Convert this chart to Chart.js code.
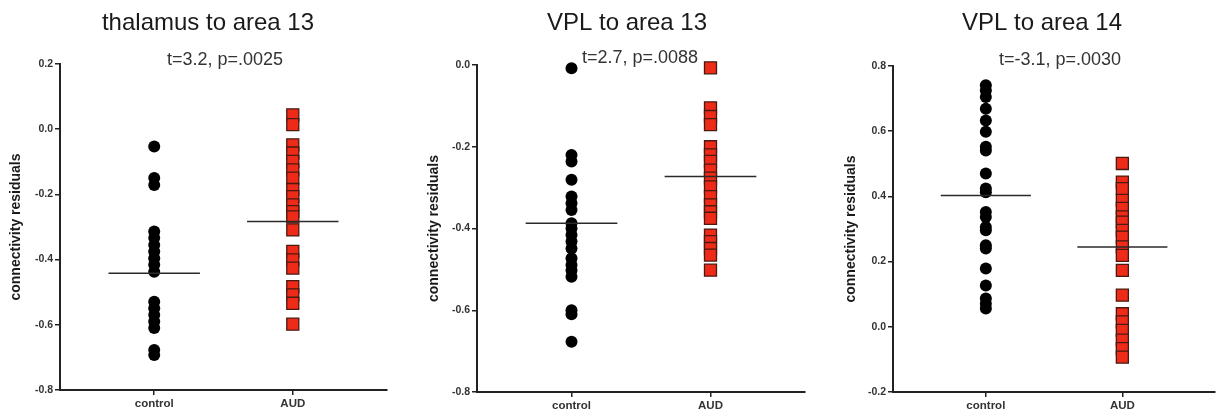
<!DOCTYPE html>
<html>
<head>
<meta charset="utf-8">
<script src="https://cdn.jsdelivr.net/npm/chart.js@4.4.1/dist/chart.umd.min.js"></script>
<style>
  body { margin: 0; background: #fff; width: 1225px; height: 419px; overflow: hidden; position: relative; }
  .panel { position: absolute; top: 0; width: 410px; height: 419px; }
</style>
</head>
<body>
<div class="panel" style="left:0px"><canvas id="c1" width="410" height="419"></canvas></div>
<div class="panel" style="left:410px"><canvas id="c2" width="410" height="419"></canvas></div>
<div class="panel" style="left:815px"><canvas id="c3" width="410" height="419"></canvas></div>
<script>
// groups on the x axis
const categories = ["control", "AUD"];

// thalamus to area 13
const p1Control = [-0.053, -0.150, -0.171, -0.314, -0.334, -0.355, -0.375, -0.396, -0.416, -0.437,
    -0.529, -0.549, -0.570, -0.590, -0.610, -0.677, -0.693];
const p1Aud = [0.044, 0.014, -0.048, -0.073, -0.099, -0.125, -0.150, -0.185, -0.207, -0.232, -0.253,
    -0.269, -0.309, -0.375, -0.401, -0.426, -0.483, -0.508, -0.534, -0.598];
const p1Means = [-0.442, -0.283];

// VPL to area 13
const p2Control = [-0.008, -0.220, -0.236, -0.281, -0.322, -0.338, -0.355, -0.387, -0.400, -0.416,
    -0.432, -0.449, -0.473, -0.489, -0.502, -0.518, -0.600, -0.610, -0.677];
const p2Aud = [-0.007, -0.105, -0.126, -0.146, -0.200, -0.220, -0.236, -0.257, -0.277, -0.298,
    -0.322, -0.342, -0.359, -0.375, -0.416, -0.432, -0.449, -0.465, -0.502];
const p2Means = [-0.387, -0.273];

// VPL to area 14
const p3Control = [0.741, 0.725, 0.705, 0.669, 0.633, 0.598, 0.552, 0.541, 0.470, 0.424, 0.413,
    0.352, 0.337, 0.306, 0.296, 0.250, 0.240, 0.179, 0.127, 0.087, 0.071, 0.056];
const p3Aud = [0.501, 0.444, 0.424, 0.388, 0.363, 0.337, 0.321, 0.296, 0.275, 0.245, 0.219,
    0.173, 0.097, 0.040, 0.015, -0.011, -0.041, -0.067, -0.093];
const p3Means = [0.403, 0.245];

const titles = ["thalamus to area 13", "VPL to area 13", "VPL to area 14"];
const stats = ["t=3.2, p=.0025", "t=2.7, p=.0088", "t=-3.1, p=.0030"];
const yRanges = [[-0.8, 0.2], [-0.8, 0.0], [-0.2, 0.8]];

const FONT = "'Liberation Sans', Arial, sans-serif";

// draws the panel title and the t / p text
const textPlugin = {
    id: "panelText",
    afterDraw(chart, args, opts) {
        const ctx = chart.ctx;
        ctx.save();
        ctx.textAlign = "center";
        ctx.textBaseline = "middle";
        ctx.fillStyle = "#1a1a1a";
        ctx.font = "24px " + FONT;
        ctx.fillText(opts.title, opts.titleX, 23);
        ctx.fillStyle = "#333";
        ctx.font = "18px " + FONT;
        ctx.fillText(opts.stat, opts.statX, opts.statY);
        ctx.restore();
    }
};

function pts(group, values) {
    return values.map(v => ({ x: group, y: v }));
}

function makeChart(id, i, control, aud, means, geo) {
    const half = 0.33;
    new Chart(document.getElementById(id), {
        type: "scatter",
        data: {
            datasets: [
                {
                    data: [{ x: 1 - half, y: means[0] }, { x: 1 + half, y: means[0] }],
                    showLine: true, borderColor: "#2a2a2a", borderWidth: 1.5, pointRadius: 0, clip: false
                },
                {
                    data: [{ x: 2 - half, y: means[1] }, { x: 2 + half, y: means[1] }],
                    showLine: true, borderColor: "#2a2a2a", borderWidth: 1.5, pointRadius: 0, clip: false
                },
                {
                    data: pts(1, control),
                    pointStyle: "circle", pointRadius: 6,
                    backgroundColor: "#000", borderColor: "#000", borderWidth: 0, clip: false
                },
                {
                    data: pts(2, aud),
                    pointStyle: "rect", pointRadius: 8.5,
                    backgroundColor: "#ee2a18", borderColor: "#4a1a10", borderWidth: 1.3, clip: false
                }
            ]
        },
        options: {
            responsive: false,
            animation: false,
            events: [],
            layout: { padding: { left: geo.padLeft, top: geo.top, right: geo.padRight, bottom: 0 } },
            plugins: {
                legend: { display: false },
                tooltip: { enabled: false },
                panelText: { title: titles[i], stat: stats[i], titleX: geo.titleX, statX: geo.statX, statY: geo.statY }
            },
            scales: {
                x: {
                    type: "linear",
                    min: 0.32,
                    max: 2.68,
                    afterBuildTicks: (scale) => {
                        scale.ticks = categories.map((c, k) => ({ value: k + 1 }));
                    },
                    afterFit: (scale) => { scale.height = geo.xHeight; },
                    ticks: {
                        callback: (v) => categories[Math.round(v) - 1],
                        color: "#333",
                        font: { family: FONT, size: 11.5, weight: "bold" },
                        padding: 2,
                        maxRotation: 0
                    },
                    grid: { drawOnChartArea: false, drawTicks: true, tickLength: 5, color: "#222", lineWidth: 1.5 },
                    border: { display: true, color: "#222", width: 2 }
                },
                y: {
                    min: yRanges[i][0],
                    max: yRanges[i][1],
                    afterFit: (scale) => { scale.width = geo.yWidth; },
                    ticks: {
                        stepSize: 0.2,
                        callback: (v) => (Math.abs(v) < 1e-9 ? 0 : v).toFixed(1),
                        color: "#333",
                        font: { family: FONT, size: 10.5, weight: "bold" },
                        padding: 2
                    },
                    grid: { drawOnChartArea: false, drawTicks: true, tickLength: 5, color: "#222", lineWidth: 1.5 },
                    border: { display: true, color: "#222", width: 2 },
                    title: {
                        display: true,
                        text: "connectivity residuals",
                        color: "#1a1a1a",
                        font: { family: FONT, size: 14, weight: "bold" },
                        padding: { top: 2, bottom: 0 }
                    }
                }
            }
        },
        plugins: [textPlugin]
    });
}

makeChart("c1", 0, p1Control, p1Aud, p1Means,
    { padLeft: 6, yWidth: 54, padRight: 23, top: 64, xHeight: 29, titleX: 208, statX: 225, statY: 60 });
makeChart("c2", 1, p2Control, p2Aud, p2Means,
    { padLeft: 14, yWidth: 53, padRight: 15, top: 65, xHeight: 27, titleX: 217, statX: 230, statY: 58 });
makeChart("c3", 2, p3Control, p3Aud, p3Means,
    { padLeft: 26, yWidth: 52, padRight: 5, top: 66, xHeight: 27, titleX: 227, statX: 245, statY: 60 });
</script>
</body>
</html>
